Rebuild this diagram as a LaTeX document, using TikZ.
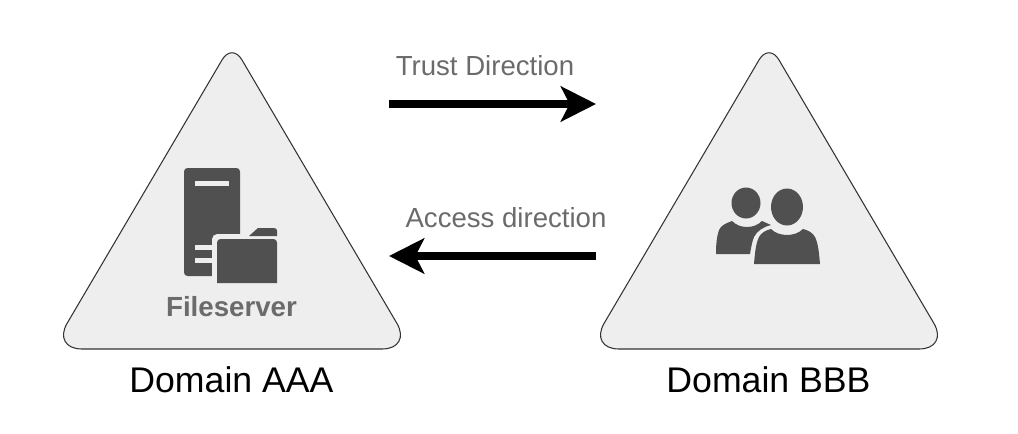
\documentclass[tikz,border=0pt]{standalone}
\usepackage{fontspec}
\setmainfont{Liberation Sans}
\usetikzlibrary{arrows.meta}
\definecolor{triFill}{HTML}{EEEEEE}
\definecolor{triLine}{HTML}{333333}
\definecolor{iconFill}{HTML}{505050}
\definecolor{labelGrey}{HTML}{6B6B6B}
\tikzset{
  domainTri/.style = {draw = triLine, fill = triFill, line width = 0.6pt},
  dirArrow/.style = {line width = 4.5pt, -{Stealth[length = 20pt, width = 20pt, inset = 5pt]}},
  icon/.style = {fill = iconFill, draw = none},
  halo/.style = {fill = triFill, draw = none},
  dirLabel/.style = {text = labelGrey, font = \fontsize{15.7}{18}\selectfont, inner sep = 0pt},
  domainLabel/.style = {text = black, font = \fontsize{20.3}{24}\selectfont, inner sep = 0pt}
}
\begin{document}
\begin{tikzpicture}[x = 0.02cm, y = -0.02cm]
\useasboundingbox (0, 0) rectangle (1018, 433);
\draw[domainTri] (232, 349) [rounded corners = 17pt] -- (52, 349) [rounded corners = 11pt] -- (232, 43) [rounded corners = 17pt] -- (412, 349) [sharp corners] -- cycle;
\draw[domainTri] (769, 349) [rounded corners = 17pt] -- (589, 349) [rounded corners = 11pt] -- (769, 43) [rounded corners = 17pt] -- (949, 349) [sharp corners] -- cycle;
% server with folder
\fill[icon, rounded corners = 2pt] (184, 276) -- (184, 168) -- (240, 168) -- (240, 276) -- cycle;
\fill[triFill] (195, 181) rectangle (229, 186);
\fill[triFill] (195, 245) rectangle (214, 250);
\fill[triFill] (195, 258) rectangle (214, 263);
\fill[halo, rounded corners = 3pt] (212, 285) -- (212, 234) -- (280, 234) -- (280, 285) -- cycle;
\fill[icon] (249, 236) -- (258, 228) -- (274, 228) .. controls (276, 228) and (277, 229) .. (277, 231) -- (277, 236) -- cycle;
\fill[icon, rounded corners = 2pt] (217, 283) -- (217, 239) -- (277, 239) [sharp corners] -- (277, 283) -- cycle;
\node[font = \fontsize{15.75}{18}\selectfont\bfseries, text = labelGrey, inner sep = 0pt] (fileserver) at (231.5, 307) {Fileserver};
% two users
\fill[icon] (746, 203) ellipse [x radius = 14.5, y radius = 15.5];
\fill[icon] (716, 254) .. controls (716, 243) and (717, 236) .. (719, 230) .. controls (721, 225) and (727, 223) .. (732, 221) .. controls (736, 225) and (741, 227) .. (747, 227) .. controls (753, 227) and (758, 225) .. (762, 221) .. controls (765, 222) and (768, 224) .. (771, 225) .. controls (763, 227) and (757, 231) .. (754, 237) .. controls (752, 242) and (751, 248) .. (750, 254) -- cycle;
\fill[icon] (787, 207) ellipse [x radius = 16, y radius = 18.5];
\fill[icon] (754, 264) .. controls (755, 252) and (756, 243) .. (759, 237) .. controls (761, 233) and (766, 230) .. (771, 229) .. controls (775, 233) and (781, 235) .. (787, 235) .. controls (793, 235) and (799, 233) .. (803, 229) .. controls (808, 230) and (813, 233) .. (815, 237) .. controls (818, 243) and (819, 252) .. (820, 264) -- cycle;
% arrows
\coordinate (trustStart) at (389, 104);
\coordinate (trustEnd) at (596, 104);
\coordinate (accessStart) at (596, 256);
\coordinate (accessEnd) at (389, 256);
\draw[dirArrow] (trustStart) -- (trustEnd);
\draw[dirArrow] (accessStart) -- (accessEnd);
\node[dirLabel] (trustLabel) at (485, 66) {Trust Direction};
\node[dirLabel] (accessLabel) at (506, 217.5) {Access direction};
\node[domainLabel] (domainA) at (231.5, 379.5) {Domain AAA};
\node[domainLabel] (domainB) at (768.5, 379.5) {Domain BBB};
\end{tikzpicture}
\end{document}
